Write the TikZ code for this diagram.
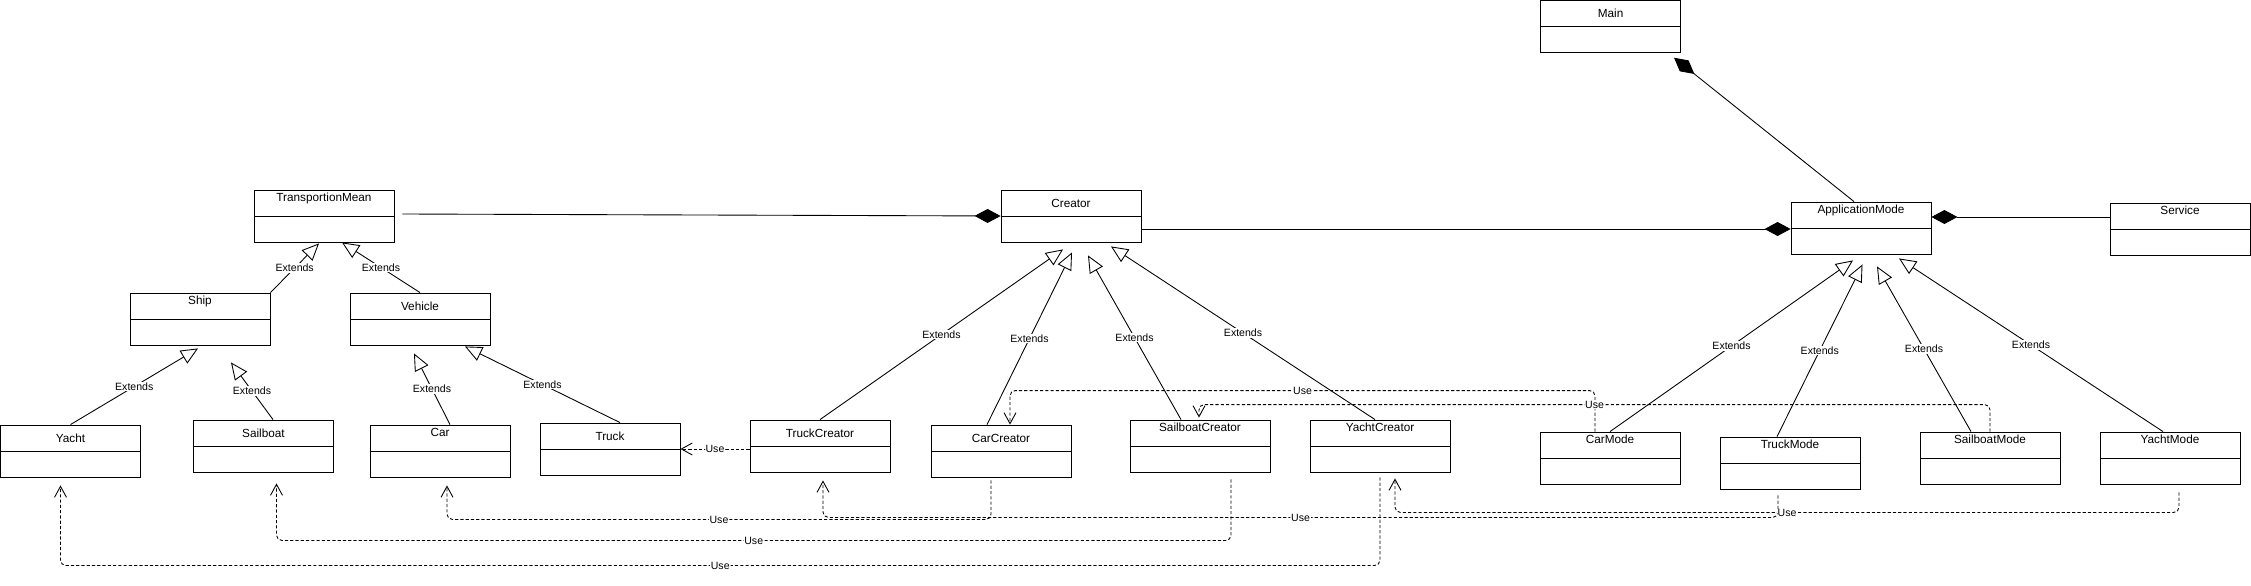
\documentclass[tikz,border=0pt]{standalone}
\usepackage{fontspec}
\setmainfont{Liberation Sans}
\usetikzlibrary{arrows.meta,calc}
\tikzset{
	cls/.style={draw,rectangle,minimum width=2.8cm,minimum height=1.04cm,inner sep=0pt,
		text height=0.344cm,text depth=0.696cm,font=\fontsize{6.7}{8}\selectfont,
		path picture={\draw (path picture bounding box.west) -- (path picture bounding box.east);}},
	clsup/.style={cls,text height=0.224cm,text depth=0.816cm},
	extends/.style={-{Triangle[open,length=0.34cm,width=0.3cm]}},
	composed/.style={-{Diamond[length=0.52cm,width=0.28cm]}},
	uses/.style={dash pattern=on 1.8pt off 1.2pt,rounded corners=3pt,-{Straight Barb[length=0.22cm,width=0.24cm]}},
	lbl/.style={fill=white,inner sep=0.5pt,font=\fontsize{6}{7}\selectfont}
}

\begin{document}
\begin{tikzpicture}[x=0.02cm,y=-0.02cm,line width=0.5pt]
	\useasboundingbox (0,0) rectangle (2251,585);

	\node[cls] (main) at (1610.6,26.3) {Main};
	\node[clsup] (tmean) at (324,216) {TransportionMean};
	\node[cls] (creator) at (1071,216) {Creator};
	\node[clsup] (appmode) at (1861,228) {ApplicationMode};
	\node[clsup] (service) at (2180,229) {Service};
	\node[clsup] (ship) at (200,319) {Ship};
	\node[cls] (vehicle) at (420,319) {Vehicle};
	\node[cls] (yacht) at (70.5,451) {Yacht};
	\node[cls] (sailboat) at (263.5,446) {Sailboat};
	\node[clsup] (car) at (440,451) {Car};
	\node[cls] (truck) at (610,449) {Truck};
	\node[cls] (truckcr) at (820,446) {TruckCreator};
	\node[cls] (carcr) at (1001,451) {CarCreator};
	\node[clsup] (sailcr) at (1200,446) {SailboatCreator};
	\node[clsup] (yachtcr) at (1380,446) {YachtCreator};
	\node[clsup] (carmode) at (1610,458) {CarMode};
	\node[clsup] (truckmode) at (1790,463) {TruckMode};
	\node[clsup] (sailmode) at (1990,458) {SailboatMode};
	\node[clsup] (yachtmode) at (2170,458) {YachtMode};

	\draw[composed] ($(tmean.east)+(8,-2)$) -- (creator.west);
	\draw[composed] ($(creator.east)+(0,13)$) -- ($(appmode.west)+(0,1)$);
	\draw[composed] ($(service.west)+(0,-12)$) -- ($(appmode.east)+(0,-11)$);
	\draw[composed] ($(appmode.north)+(-7,0)$) -- ($(main.south east)+(-7,5)$);

	\draw[uses] ($(truckcr.west)+(0,3)$) -- node[lbl]{Use} (truck.east);
	\draw[uses] ($(carcr.south)+(-10,3)$) -- ++(0,39) -| node[lbl,pos=0.25]{Use} ($(car.south)+(7,8)$);
	\draw[uses] ($(sailcr.south)+(31,7)$) -- ++(0,61) -| node[lbl,pos=0.25]{Use} ($(sailboat.south)+(13,11)$);
	\draw[uses] ($(yachtcr.south)+(0,5)$) -- ++(0,88) -| node[lbl,pos=0.25]{Use} ($(yacht.south)+(-10,8)$);
	\draw[uses] ($(carmode.north)+(-15,0)$) -- ++(0,-41) -| node[lbl,pos=0.25]{Use} ($(carcr.north)+(9,0)$);
	\draw[uses] (sailmode.north) -- ++(0,-27) -| node[lbl,pos=0.25]{Use} ($(sailcr.north)+(-1,-2)$);
	\draw[uses] ($(truckmode.south)+(-12,6)$) -- ++(0,22) -| node[lbl,pos=0.25]{Use} ($(truckcr.south)+(3,8)$);
	\draw[uses] ($(yachtmode.south)+(9,8)$) -- ++(0,20) -| node[lbl,pos=0.25]{Use} ($(yachtcr.south)+(15,6)$);

	\draw[extends] (ship.north east) -- node[lbl]{Extends} ($(tmean.south)+(-5,1)$);
	\draw[extends] (vehicle.north) -- node[lbl]{Extends} ($(tmean.south)+(18,0)$);
	\draw[extends] (yacht.north) -- node[lbl]{Extends} ($(ship.south)+(-2,3)$);
	\draw[extends] ($(sailboat.north)+(9.5,0)$) -- node[lbl]{Extends} ($(ship.south)+(31,17)$);
	\draw[extends] ($(car.north)+(10,0)$) -- node[lbl]{Extends} ($(vehicle.south)+(-6,8)$);
	\draw[extends] ($(truck.north)+(10,0)$) -- node[lbl]{Extends} ($(vehicle.south)+(45,1)$);
	\draw[extends] (truckcr.north) -- node[lbl]{Extends} ($(creator.south)+(-8,7)$);
	\draw[extends] ($(carcr.north)+(-14,0)$) -- node[lbl]{Extends} ($(creator.south)+(1,10)$);
	\draw[extends] ($(sailcr.north)+(-19,0)$) -- node[lbl]{Extends} ($(creator.south)+(17,13)$);
	\draw[extends] ($(yachtcr.north)+(-5,0)$) -- node[lbl]{Extends} ($(creator.south)+(40,4)$);
	\draw[extends] (carmode.north) -- node[lbl]{Extends} ($(appmode.south)+(-8,6)$);
	\draw[extends] ($(truckmode.north)+(-13,0)$) -- node[lbl]{Extends} ($(appmode.south)+(1.5,10)$);
	\draw[extends] ($(sailmode.north)+(-19,0)$) -- node[lbl]{Extends} ($(appmode.south)+(16,12)$);
	\draw[extends] ($(yachtmode.north)+(-7,0)$) -- node[lbl]{Extends} ($(appmode.south)+(38,4)$);
\end{tikzpicture}
\end{document}
